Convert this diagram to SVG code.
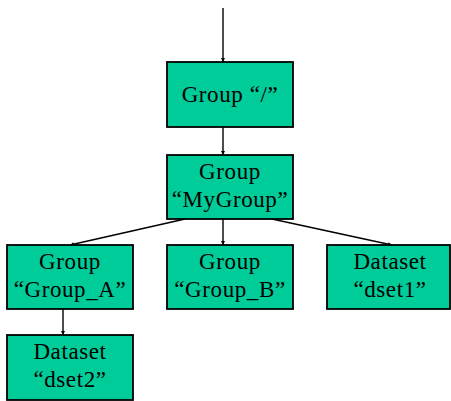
<svg xmlns="http://www.w3.org/2000/svg" width="451" height="401" viewBox="0 0 451 401">
<defs>
<style>
.box{fill:#00CC99;stroke:#000;stroke-width:1.8}
.t{font-family:"Liberation Serif","Times New Roman",serif;font-size:23px;letter-spacing:0.6px;fill:#000;text-anchor:middle}
.c{stroke:#000;stroke-width:1.4;fill:none;marker-end:url(#ah)}
</style>
<marker id="ah" viewBox="0 0 6 6" refX="6" refY="3" markerWidth="4" markerHeight="4" orient="auto" markerUnits="userSpaceOnUse">
<path d="M0,0 L6,3 L0,6 z" fill="#000"/>
</marker>
</defs>
<rect width="451" height="401" fill="#fff"/>
<g id="connectors">
<line class="c" x1="223" y1="8" x2="223" y2="62"/>
<line class="c" x1="223" y1="127" x2="223" y2="155"/>
<line class="c" x1="185" y1="219" x2="70" y2="245"/>
<line class="c" x1="223" y1="219" x2="223" y2="245"/>
<line class="c" x1="272" y1="219" x2="392" y2="245"/>
<line class="c" x1="63" y1="309" x2="63" y2="335"/>
</g>
<g id="root">
<rect class="box" x="167" y="62" width="126" height="65"/>
<text class="t" x="230" y="102">Group “/”</text>
</g>
<g id="mygroup">
<rect class="box" x="167" y="155" width="126" height="64"/>
<text class="t" x="230" y="179">Group</text>
<text class="t" x="230" y="207">“MyGroup”</text>
</g>
<g id="groupA">
<rect class="box" x="7" y="245" width="126" height="64"/>
<text class="t" x="70" y="269">Group</text>
<text class="t" x="70" y="297">“Group_A”</text>
</g>
<g id="groupB">
<rect class="box" x="167" y="245" width="126" height="64"/>
<text class="t" x="230" y="269">Group</text>
<text class="t" x="230" y="297">“Group_B”</text>
</g>
<g id="dset1">
<rect class="box" x="327" y="245" width="123" height="64"/>
<text class="t" x="390" y="269">Dataset</text>
<text class="t" x="390" y="297">“dset1”</text>
</g>
<g id="dset2">
<rect class="box" x="7" y="335" width="126" height="65"/>
<text class="t" x="70" y="359">Dataset</text>
<text class="t" x="70" y="387">“dset2”</text>
</g>
</svg>
